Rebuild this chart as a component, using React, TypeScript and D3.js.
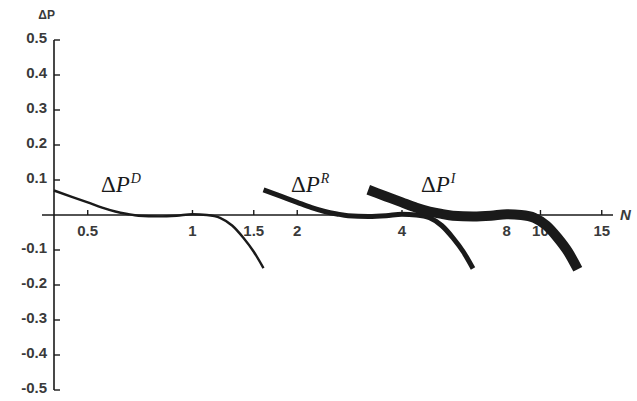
import React from 'react';
import { scaleLog, scaleLinear, line, curveMonotoneX } from 'd3';

const width = 637;
const height = 401;

// x ticks (log axis) and y ticks
const xTicks = [0.5, 1, 1.5, 2, 4, 8, 10, 15];
const yTicks = [0.5, 0.4, 0.3, 0.2, 0.1, -0.1, -0.2, -0.3, -0.4, -0.5];

// ΔP^D  (thin)
const nD = [0.4, 0.45, 0.5, 0.55, 0.6, 0.65, 0.7, 0.8, 0.9, 1.0, 1.1, 1.2, 1.3, 1.4, 1.5, 1.6];
const pD = [0.070, 0.052, 0.036, 0.021, 0.010, 0.003, -0.002, -0.004, -0.002, 0.002, 0.000, -0.008, -0.030, -0.065, -0.105, -0.152];

// ΔP^R  (medium)
const nR = [1.6, 1.8, 2.0, 2.2, 2.4, 2.6, 2.8, 3.2, 3.6, 4.0, 4.4, 4.8, 5.2, 5.6, 6.0, 6.4];
const pR = [0.072, 0.053, 0.036, 0.021, 0.010, 0.003, -0.002, -0.004, -0.002, 0.002, 0.000, -0.008, -0.030, -0.065, -0.105, -0.153];

// ΔP^I  (thick)
const nI = [3.2, 3.6, 4.0, 4.4, 4.8, 5.2, 5.6, 6.4, 7.2, 8.0, 8.8, 9.6, 10.4, 11.2, 12.0, 12.8];
const pI = [0.072, 0.053, 0.036, 0.021, 0.010, 0.003, -0.002, -0.004, -0.002, 0.002, 0.000, -0.008, -0.030, -0.065, -0.105, -0.155];

const labelFont = '"Liberation Sans", Arial, sans-serif';
const serifFont = '"Liberation Serif", "Times New Roman", serif';
const ink = '#1a1a1a';
const textInk = '#3a3a3a';

const x = scaleLog().domain([0.4, 16]).range([54, 611.5]);
const y = scaleLinear().domain([-0.5, 0.5]).range([390, 40]);

const pathFor = (ns: number[], ps: number[]) =>
    line<number>()
        .x(d => x(ns[d]))
        .y(d => y(ps[d]))
        .curve(curveMonotoneX)(ns.map((_, i) => i)) || '';

const CurveLabel = ({ px, py, sup }: { px: number; py: number; sup: string }) => (
    <text x={px} y={py} fontFamily={serifFont} fontSize={23} fill={ink}>
        <tspan>Δ</tspan>
        <tspan fontStyle="italic">P</tspan>
        <tspan fontStyle="italic" fontSize={14} dy={-9} dx={1}>{sup}</tspan>
    </text>
);

const App = () => {
    const y0 = y(0);
    return (
        <svg width={width} height={height} style={{ position: 'absolute', left: 0, top: 0, background: '#fff' }}>
            {/* y axis */}
            <line x1={x(0.4)} x2={x(0.4)} y1={y(0.5)} y2={y(-0.5)} stroke={ink} strokeWidth={1.6} />
            {yTicks.map(t => (
                <g key={t}>
                    <line x1={x(0.4)} x2={x(0.4) + 6} y1={y(t)} y2={y(t)} stroke={ink} strokeWidth={1.4} />
                    <text x={47} y={y(t) - 2} dy="0.35em" textAnchor="end" fontFamily={labelFont}
                          fontWeight="bold" fontSize={15} fill={textInk}>
                        {t < 0 ? '-' + Math.abs(t).toFixed(1) : t.toFixed(1)}
                    </text>
                </g>
            ))}
            <text x={55} y={19} textAnchor="end" fontFamily={labelFont} fontWeight="bold" fontSize={12} fill={textInk}>ΔP</text>

            {/* x axis */}
            <line x1={42} x2={613} y1={y0} y2={y0} stroke={ink} strokeWidth={1.6} />
            {xTicks.map(t => (
                <g key={t}>
                    <line x1={x(t)} x2={x(t)} y1={y0} y2={y0 - 5} stroke={ink} strokeWidth={1.4} />
                    <text x={x(t)} y={y0 + 21} textAnchor="middle" fontFamily={labelFont}
                          fontWeight="bold" fontSize={15} fill={textInk}>{t}</text>
                </g>
            ))}
            <text x={620} y={y0 + 5} fontFamily={labelFont} fontStyle="italic" fontWeight="bold"
                  fontSize={15} fill={textInk}>N</text>

            {/* curves */}
            <path d={pathFor(nD, pD)} fill="none" stroke={ink} strokeWidth={2.4} />
            <path d={pathFor(nR, pR)} fill="none" stroke={ink} strokeWidth={5} />
            <path d={pathFor(nI, pI)} fill="none" stroke={ink} strokeWidth={10} />

            <CurveLabel px={101} py={192} sup="D" />
            <CurveLabel px={291} py={192} sup="R" />
            <CurveLabel px={421} py={192} sup="I" />
        </svg>
    );
};

export default App;
